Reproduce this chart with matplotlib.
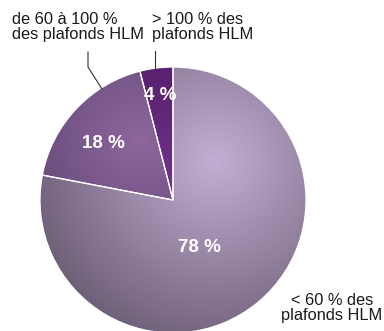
import numpy as np
import matplotlib
matplotlib.use("Agg")
import matplotlib.pyplot as plt
from matplotlib.colors import LinearSegmentedColormap

plt.rcParams['font.family'] = ['Liberation Sans', 'DejaVu Sans']

categories = ["< 60 % des\nplafonds HLM", "de 60 à 100 %\ndes plafonds HLM", "> 100 % des\nplafonds HLM"]
values = [78, 18, 4]
pct_labels = ["78 %", "18 %", "4 %"]
# (light, dark) colours per slice
light_cols = ["#c3aed3", "#8d679d", "#74358f"]
dark_cols = ["#6f6079", "#5d4270", "#5a2270"]
focus = [(215, 170), (140, 190), (165, 130)]  # pixel coords (y down) of the lightest point
spread = [190, 150, 120]

W, H = 384, 331
fig = plt.figure(figsize=(W / 100, H / 100), dpi=100)
ax = fig.add_axes([0, 0, 1, 1])

cx, cy, r = 173, H - 200, 133
wedges, _ = ax.pie(values, startangle=90, counterclock=False, center=(cx, cy), radius=r,
                   colors=light_cols, wedgeprops=dict(edgecolor='white', linewidth=0.9),
                   frame=True)
ax.set_xlim(0, W)
ax.set_ylim(0, H)
ax.set_aspect('equal')
ax.axis('off')

xx, yy = np.meshgrid(np.arange(W) + 0.5, np.arange(H) + 0.5)
for w, lc, dc, (fx, fy), sp in zip(wedges, light_cols, dark_cols, focus, spread):
    d = np.sqrt((xx - fx) ** 2 + (yy - fy) ** 2) / sp
    d = np.clip(d, 0, 1)
    cmap = LinearSegmentedColormap.from_list("g", [lc, dc])
    im = ax.imshow(d, cmap=cmap, extent=(0, W, H, 0), origin='upper', zorder=1.5,
                   interpolation='bilinear')
    im.set_clip_path(w)

# redraw white edges on top
for w in wedges:
    w.set_zorder(2)
    w.set_facecolor('none')

# percentage labels
pct_pos = [(199, 248), (103, 143), (160, 95)]
for (px, py), t in zip(pct_pos, pct_labels):
    ax.text(px, H - py, t, color='white', fontsize=13.5, fontweight='bold',
            ha='center', va='center', zorder=3)

fs = 11.8
# category labels
ax.text(332, H - 308, categories[0], fontsize=fs, ha='center', va='center',
        multialignment='center', color='#1a1a1a', linespacing=1.0, zorder=3)
ax.text(12, H - 27, categories[1], fontsize=fs, ha='left', va='center',
        color='#1a1a1a', linespacing=1.0, zorder=3)
ax.text(152, H - 27, categories[2], fontsize=fs, ha='left', va='center',
        color='#1a1a1a', linespacing=1.0, zorder=3)

# leader lines
ax.plot([88, 88, 102], [H - 52, H - 67, H - 89], color='#333333', lw=0.8, zorder=3)
ax.plot([155, 155], [H - 51, H - 68], color='#333333', lw=0.8, zorder=3)

fig.savefig("out.png", dpi=100)
